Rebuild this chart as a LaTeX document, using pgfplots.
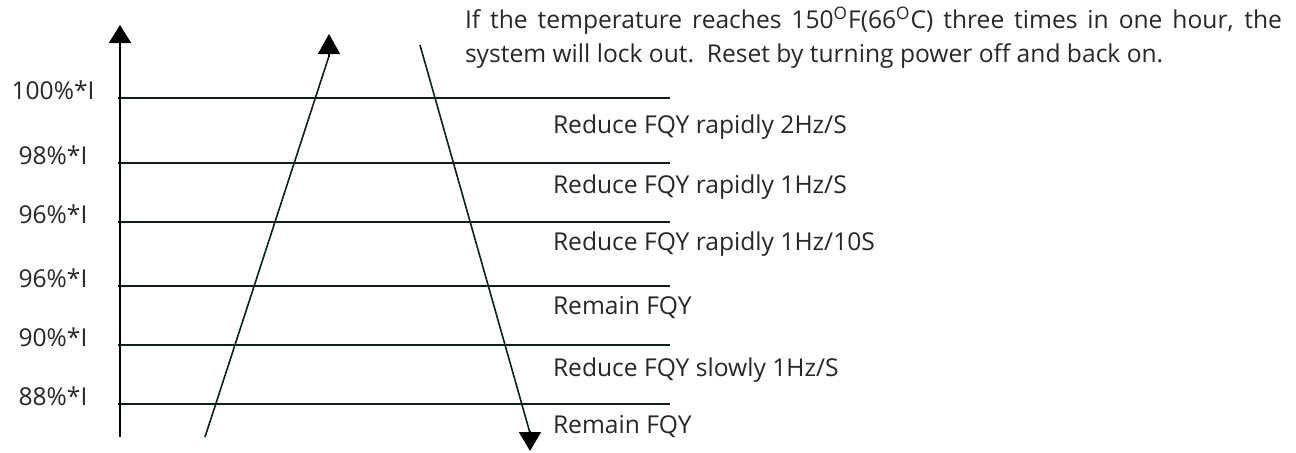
\documentclass[border=0pt]{standalone}
\usepackage{pgfplots}
\pgfplotsset{compat=1.18}
\usepackage{fontspec}
\setmainfont{Open Sans}
\usetikzlibrary{arrows.meta}
\definecolor{ln}{RGB}{18,30,30}
\definecolor{tx}{RGB}{40,38,38}
\tikzset{lbl/.style={font=\fontsize{12.3}{14}\selectfont, text=tx, inner sep=0pt, outer sep=0pt}}
\begin{document}
\begin{tikzpicture}
\begin{axis}[
  x=0.5pt, y=0.5pt,
  xmin=0, xmax=1296, ymin=0, ymax=452,
  y dir=reverse,
  hide axis, clip=false,
]
\addplot[draw=none] coordinates {(0,0) (1296,452)};
% horizontal level lines
\addplot[ln, line width=1pt] coordinates {(118,98) (670,98)};
\addplot[ln, line width=1pt] coordinates {(118,163) (670,163)};
\addplot[ln, line width=1pt] coordinates {(118,222) (670,222)};
\addplot[ln, line width=1pt] coordinates {(118,286) (670,286)};
\addplot[ln, line width=1pt] coordinates {(118,345) (670,345)};
\addplot[ln, line width=1pt] coordinates {(118,404) (670,404)};
% vertical axis arrow
\addplot[black, line width=1pt, -{Triangle[width=11pt,length=9pt]}] coordinates {(120,437) (120,25)};
% rising line
\addplot[ln, line width=0.8pt] coordinates {(205,437) (329,56)};
\addplot[black, line width=0.8pt, -{Triangle[width=11pt,length=10pt]}] coordinates {(329,57) (329,34)};
% falling line
\addplot[ln, line width=0.8pt] coordinates {(420,45) (530,433)};
\addplot[black, line width=0.8pt, -{Triangle[width=11pt,length=9.5pt]}] coordinates {(530,431) (530,451)};
% left labels
\node[lbl, anchor=base] at (axis cs:53,99) {100\%*I};
\node[lbl, anchor=base] at (axis cs:53,164) {98\%*I};
\node[lbl, anchor=base] at (axis cs:53,223) {96\%*I};
\node[lbl, anchor=base] at (axis cs:53,287) {96\%*I};
\node[lbl, anchor=base] at (axis cs:53,346) {90\%*I};
\node[lbl, anchor=base] at (axis cs:53,405) {88\%*I};
% right labels
\node[lbl, anchor=base west] at (axis cs:553,133) {Reduce FQY rapidly 2Hz/S};
\node[lbl, anchor=base west] at (axis cs:553,193) {Reduce FQY rapidly 1Hz/S};
\node[lbl, anchor=base west] at (axis cs:553,250) {Reduce FQY rapidly 1Hz/10S};
\node[lbl, anchor=base west] at (axis cs:553,314) {Remain FQY};
\node[lbl, anchor=base west] at (axis cs:553,376) {Reduce FQY slowly 1Hz/S};
\node[lbl, anchor=base west] at (axis cs:553,433) {Remain FQY};
% note
\node[lbl, anchor=base west] at (axis cs:465,28) {\makebox[408.5pt][s]{If the temperature reaches 150\textsuperscript{O}F(66\textsuperscript{O}C) three times in one hour, the}};
\node[lbl, anchor=base west] at (axis cs:465,62) {system will lock out.\ \ Reset by turning power off and back on.};
\end{axis}
\end{tikzpicture}
\end{document}
